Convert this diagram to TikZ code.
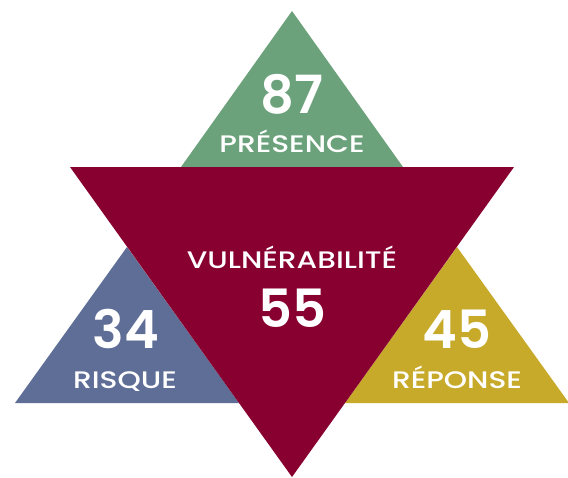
\documentclass[tikz,border=0pt]{standalone}
\usepackage{fontspec}
\setmainfont{Poppins Medium}
\newfontfamily\semifont{Poppins SemiBold}
\newfontfamily\widefont{Poppins Medium}[FakeStretch=1.24]
\usepackage{tikz}
\usetikzlibrary{positioning}
\definecolor{presence}{HTML}{6CA27B}
\definecolor{vulner}{HTML}{880030}
\definecolor{risque}{HTML}{5E6E96}
\definecolor{reponse}{HTML}{C8AA2B}
\tikzstyle{score} = [text=white, anchor=base, inner sep=0pt,
    font=\semifont\fontsize{30}{30}\selectfont]
\tikzstyle{titre} = [text=white, anchor=base, inner sep=0pt,
    font=\widefont\fontsize{13.6}{13.6}\selectfont]

\begin{document}
\begin{tikzpicture}[x=0.02cm, y=-0.02cm]
    \useasboundingbox (0,0) rectangle (568,477);

    % Small triangles
    \fill [presence] (292,11) -- (403,167) -- (181,167) -- cycle;
    \fill [risque] (127,247) -- (239,403) -- (15,403) -- cycle;
    \fill [reponse] (457,247) -- (569,403) -- (345,403) -- cycle;

    % Big inverted triangle
    \fill [vulner] (70,167) -- (514,167) -- (292,477) -- cycle;

    % Scores
    \node [score] (n87) at (292,113) {87};
    \node [titre] (presence) at (292,152) {PRÉSENCE};
    \node [titre] (vulner) at (292,268) {VULNÉRABILITÉ};
    \node [score] (n55) at (292,327) {55};
    \node [score] (n34) at (126,348) {34};
    \node [titre] (risque) at (125,388) {RISQUE};
    \node [score] (n45) at (457,348) {45};
    \node [titre] (reponse) at (457,388) {RÉPONSE};
\end{tikzpicture}
\end{document}
